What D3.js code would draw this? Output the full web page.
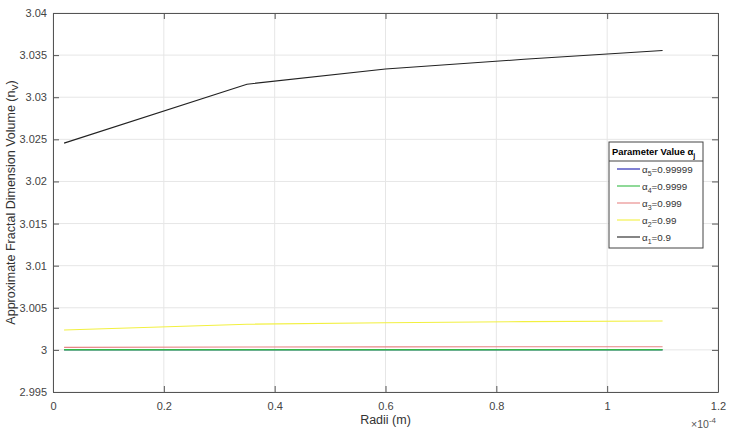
<!DOCTYPE html>
<html><head><meta charset="utf-8">
<script src="https://cdn.jsdelivr.net/npm/d3@7"></script>
<style>body{margin:0;background:#fff;} text{font-family:"Liberation Sans",Arial,sans-serif;}</style>
</head><body>
<svg id="c" width="737" height="433"></svg>
<script>
// Data (x in units of 1e-4 m)
const radii = [0.02, 0.35, 0.6, 0.85, 1.1];
const alpha5 = [3.00000, 3.00000, 3.00000, 3.00000, 3.00000];
const alpha4 = [3.00001, 3.00001, 3.00001, 3.00001, 3.00001];
const alpha3 = [3.00030, 3.00034, 3.00036, 3.00037, 3.00038];
const alpha2 = [3.00236, 3.00305, 3.00323, 3.00335, 3.00343];
const alpha1 = [3.02455, 3.03155, 3.03335, 3.03450, 3.03555];
const seriesNames = ["5", "4", "3", "2", "1"];
const seriesVals = ["0.99999", "0.9999", "0.999", "0.99", "0.9"];
const seriesColors = ["#1a1ab0", "#33bb44", "#e88585", "#f2f040", "#222222"];
const xTicks = [0, 0.2, 0.4, 0.6, 0.8, 1, 1.2];
const yTicks = [2.995, 3, 3.005, 3.01, 3.015, 3.02, 3.025, 3.03, 3.035, 3.04];

const svg = d3.select("#c");
const L = 53, R = 718, T = 13, B = 392;
const x = d3.scaleLinear().domain([0, 1.2]).range([L, R]);
const y = d3.scaleLinear().domain([2.995, 3.04]).range([B, T]);

// grid
const g = svg.append("g");
g.selectAll(".gx").data(xTicks).enter().append("line")
  .attr("x1", d => x(d)).attr("x2", d => x(d)).attr("y1", T).attr("y2", B)
  .attr("stroke", "#e6e6e6").attr("stroke-width", 1);
g.selectAll(".gy").data(yTicks).enter().append("line")
  .attr("x1", L).attr("x2", R).attr("y1", d => y(d)).attr("y2", d => y(d))
  .attr("stroke", "#e6e6e6").attr("stroke-width", 1);

// lines
const all = [alpha5, alpha4, alpha3, alpha2, alpha1];
const widths = [1.0, 1.4, 1.1, 1.1, 1.1];
const line = d3.line().x((d, i) => x(radii[i])).y(d => y(d));
all.forEach((s, k) => {
  svg.append("path").datum(s).attr("d", line).attr("fill", "none")
    .attr("stroke", seriesColors[k]).attr("stroke-width", widths[k]);
});

// axes
const fmt = d => (+d.toFixed(4)).toString();
const axB = svg.append("g").attr("transform", `translate(0,${B})`)
  .call(d3.axisBottom(x).tickValues(xTicks).tickFormat(fmt).tickSizeInner(-6).tickSizeOuter(0).tickPadding(10));
const axL = svg.append("g").attr("transform", `translate(${L},0)`)
  .call(d3.axisLeft(y).tickValues(yTicks).tickFormat(fmt).tickSizeInner(-6).tickSizeOuter(0).tickPadding(6));
const axT = svg.append("g").attr("transform", `translate(0,${T})`)
  .call(d3.axisTop(x).tickValues(xTicks).tickFormat("").tickSizeInner(-6).tickSizeOuter(0));
const axR = svg.append("g").attr("transform", `translate(${R},0)`)
  .call(d3.axisRight(y).tickValues(yTicks).tickFormat("").tickSizeInner(-6).tickSizeOuter(0));
[axB, axL, axT, axR].forEach(a => {
  a.select(".domain").attr("stroke", "#555");
  a.selectAll(".tick line").attr("stroke", "#555");
  a.selectAll("text").attr("fill", "#444").attr("font-size", 11).attr("font-family", "Liberation Sans, Arial, sans-serif");
});

// axis labels
svg.append("text").attr("x", x(0.6)).attr("y", 424).attr("text-anchor", "middle")
  .attr("font-size", 12.5).attr("fill", "#333").text("Radii (m)");
const yl = svg.append("text").attr("transform", `translate(15,${(T + B) / 2}) rotate(-90)`)
  .attr("text-anchor", "middle").attr("font-size", 12.5).attr("fill", "#333");
yl.append("tspan").text("Approximate Fractal Dimension Volume (n");
yl.append("tspan").attr("font-size", 9).attr("dy", 3).text("V");
yl.append("tspan").attr("dy", -3).text(")");
const ex = svg.append("text").attr("x", 716).attr("y", 428).attr("text-anchor", "end")
  .attr("font-size", 10.5).attr("fill", "#555");
ex.append("tspan").text("\u00d710");
ex.append("tspan").attr("font-size", 8).attr("dy", -5).text("-4");

// legend
const lx = 609, ly = 142, lw = 94, lh = 106;
const lg = svg.append("g");
lg.append("rect").attr("x", lx).attr("y", ly).attr("width", lw).attr("height", lh)
  .attr("fill", "#fff").attr("stroke", "#444").attr("stroke-width", 1);
lg.append("line").attr("x1", lx).attr("x2", lx + lw).attr("y1", ly + 19).attr("y2", ly + 19)
  .attr("stroke", "#444");
const tt = lg.append("text").attr("x", lx + 3).attr("y", ly + 13).attr("font-size", 9.4)
  .attr("font-weight", "bold").attr("fill", "#000");
tt.append("tspan").text("Parameter Value \u03b1");
tt.append("tspan").attr("font-size", 7).attr("dy", 3).text("j");
seriesNames.forEach((n, k) => {
  const yy = ly + 27 + k * 17;
  lg.append("line").attr("x1", lx + 8).attr("x2", lx + 31).attr("y1", yy).attr("y2", yy)
    .attr("stroke", seriesColors[k]).attr("stroke-width", 1.1);
  const t = lg.append("text").attr("x", lx + 33).attr("y", yy + 3.5).attr("font-size", 9.8).attr("fill", "#333");
  t.append("tspan").text("\u03b1");
  t.append("tspan").attr("font-size", 7).attr("dy", 3).text(n);
  t.append("tspan").attr("dy", -3).text("=" + seriesVals[k]);
});
</script>
</body></html>
